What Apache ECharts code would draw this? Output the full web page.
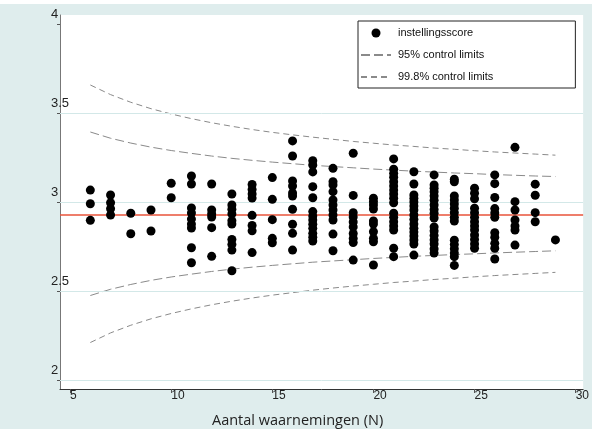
<!DOCTYPE html>
<html>
<head>
<meta charset="utf-8">
<script src="https://cdn.jsdelivr.net/npm/echarts@6/dist/echarts.min.js"></script>
<style>
  html, body { margin: 0; padding: 0; background: #ffffff; }
  #chart { width: 592px; height: 429px; }
</style>
</head>
<body>
<div id="chart"></div>
<script>
// ---- data ----
const xTicks = [5, 10, 15, 20, 25, 30];
const yTicks = [2, 2.5, 3, 3.5, 4];
const gridValues = [2, 2.5, 3, 3.5];
const meanScore = 2.934;

const scoreN = [6, 7, 8, 9, 10, 11, 12, 13, 14, 15, 16, 17, 18, 19, 20, 21, 22, 23, 24, 25, 26, 27, 28, 29];
const scoreColumns = [
  [3.067, 2.990, 2.897],
  [3.039, 2.996, 2.962, 2.927],
  [2.937, 2.822],
  [2.955, 2.837],
  [3.105, 3.024],
  [3.146, 3.101, 2.966, 2.938, 2.904, 2.876, 2.854, 2.743, 2.659],
  [3.101, 2.955, 2.933, 2.916, 2.856, 2.695],
  [3.045, 2.983, 2.959, 2.933, 2.895, 2.876, 2.790, 2.762, 2.730, 2.614],
  [3.098, 3.070, 3.045, 3.022, 2.925, 2.868, 2.838, 2.716],
  [3.137, 3.015, 2.901, 2.796, 2.771],
  [3.343, 3.258, 3.118, 3.090, 3.051, 3.034, 2.959, 2.875, 2.824, 2.730],
  [3.232, 3.208, 3.169, 3.086, 3.024, 2.946, 2.921, 2.899, 2.875, 2.852, 2.824, 2.802, 2.781],
  [3.189, 3.114, 3.096, 3.058, 3.011, 2.983, 2.955, 2.927, 2.899, 2.820, 2.726],
  [3.274, 3.037, 2.940, 2.916, 2.888, 2.860, 2.823, 2.795, 2.772, 2.674],
  [3.021, 3.002, 2.983, 2.961, 2.893, 2.876, 2.833, 2.796, 2.777, 2.646],
  [3.242, 3.184, 3.161, 3.139, 3.114, 3.090, 3.067, 3.045, 3.021, 2.996, 2.937, 2.914, 2.889, 2.865, 2.843, 2.740, 2.693],
  [3.170, 3.101, 3.039, 3.020, 3.000, 2.978, 2.955, 2.927, 2.902, 2.876, 2.852, 2.831, 2.809, 2.787, 2.764, 2.702],
  [3.152, 3.096, 3.077, 3.058, 3.034, 3.010, 2.983, 2.958, 2.937, 2.910, 2.860, 2.837, 2.812, 2.787, 2.764, 2.736, 2.713],
  [3.128, 3.114, 3.034, 3.011, 2.989, 2.965, 2.940, 2.914, 2.893, 2.785, 2.761, 2.737, 2.713, 2.693, 2.644],
  [3.077, 3.049, 3.018, 2.965, 2.940, 2.914, 2.889, 2.865, 2.843, 2.815, 2.790, 2.764, 2.740],
  [3.152, 3.103, 3.025, 2.963, 2.938, 2.914, 2.828, 2.802, 2.768, 2.740, 2.680],
  [3.307, 3.002, 2.955, 2.899, 2.865, 2.843, 2.758],
  [3.100, 3.038, 2.940, 2.889],
  [2.787]
];

const limitN = [6, 7, 8, 9, 10, 11, 12, 13, 14, 15, 16, 17, 18, 19, 20, 21, 22, 23, 24, 25, 26, 27, 28, 29];
const upper95 = [3.393, 3.358, 3.331, 3.308, 3.289, 3.273, 3.258, 3.245, 3.234, 3.224, 3.215, 3.206, 3.199, 3.192, 3.185, 3.179, 3.173, 3.168, 3.163, 3.159, 3.154, 3.150, 3.146, 3.143];
const lower95 = [2.475, 2.510, 2.537, 2.560, 2.579, 2.595, 2.610, 2.623, 2.634, 2.644, 2.653, 2.662, 2.669, 2.676, 2.683, 2.689, 2.695, 2.700, 2.705, 2.709, 2.714, 2.718, 2.722, 2.726];
const upper998 = [3.657, 3.603, 3.560, 3.524, 3.494, 3.468, 3.445, 3.425, 3.407, 3.391, 3.377, 3.364, 3.352, 3.340, 3.330, 3.320, 3.312, 3.303, 3.296, 3.288, 3.281, 3.275, 3.269, 3.263];
const lower998 = [2.211, 2.265, 2.308, 2.344, 2.374, 2.400, 2.423, 2.443, 2.461, 2.477, 2.491, 2.505, 2.517, 2.528, 2.538, 2.548, 2.556, 2.565, 2.572, 2.580, 2.587, 2.593, 2.599, 2.605];

const seriesNames = ['instellingsscore', '95% control limits', '99.8% control limits'];
const xTitle = 'Aantal waarnemingen (N)';

// ---- build ----
const scatterData = [];
scoreN.forEach((n, i) => scoreColumns[i].forEach(v => scatterData.push([n, v])));
const pairs = (ys) => limitN.map((n, i) => [n, ys[i]]);

const limitColor = '#8a8a8a';
const lineSeries = (name, ys, dash) => ({
  name: name,
  type: 'line',
  data: pairs(ys),
  showSymbol: false,
  symbol: 'none',
  smooth: false,
  silent: true,
  z: 3,
  lineStyle: { color: limitColor, width: 1, type: dash },
  itemStyle: { color: limitColor }
});

const chart = echarts.init(document.getElementById('chart'), null, { renderer: 'canvas' });
chart.setOption({
  animation: false,
  backgroundColor: '#dfeded',
  graphic: [
    { type: 'rect', left: 0, top: 0, shape: { width: 592, height: 4 }, style: { fill: '#ffffff' }, silent: true }
  ],
  title: {
    text: xTitle,
    left: 212,
    top: 413,
    padding: 0,
    textStyle: { fontFamily: 'Open Sans', fontSize: 14.5, fontWeight: 'normal', color: '#222' }
  },
  grid: {
    left: 60, right: 7, top: 15, bottom: 40,
    show: true, backgroundColor: '#ffffff', borderWidth: 0
  },
  legend: {
    data: [
      { name: seriesNames[0] },
      { name: seriesNames[1], itemStyle: { opacity: 0 } },
      { name: seriesNames[2], itemStyle: { opacity: 0 } }
    ],
    orient: 'vertical',
    left: 358,
    top: 21,
    padding: [5, 82, 4, 2],
    itemGap: 8,
    itemWidth: 30,
    itemHeight: 9,
    backgroundColor: '#ffffff',
    borderColor: '#222',
    borderWidth: 1,
    borderRadius: 0,
    textStyle: { fontFamily: 'Liberation Sans', fontSize: 11, color: '#111', lineHeight: 14, padding: [0, 0, 0, 2] }
  },
  xAxis: {
    type: 'value',
    min: 4.5,
    max: 30.37,
    axisLine: { show: true, lineStyle: { color: '#333', width: 1 } },
    axisTick: { show: true, length: 4, inside: false, customValues: xTicks, lineStyle: { color: '#555' } },
    axisLabel: {
      customValues: xTicks,
      align: 'left',
      margin: 1,
      fontFamily: 'Liberation Sans',
      fontSize: 12,
      color: '#222'
    },
    splitLine: { show: false }
  },
  yAxis: {
    type: 'value',
    min: 1.95,
    max: 4.05,
    axisLine: { show: true, lineStyle: { color: '#777', width: 1 } },
    axisTick: { show: true, length: 3, customValues: yTicks, lineStyle: { color: '#555' } },
    axisLabel: {
      customValues: yTicks,
      align: 'left',
      verticalAlign: 'bottom',
      margin: 9,
      padding: [0, 0, 3, 0],
      fontFamily: 'Liberation Sans',
      fontSize: 13,
      color: '#222'
    },
    splitLine: { show: false }
  },
  series: [
    {
      name: 'grid',
      type: 'line',
      data: [],
      silent: true,
      z: 1,
      markLine: {
        silent: true,
        symbol: 'none',
        label: { show: false },
        lineStyle: { color: '#d3e8e8', width: 1, type: 'solid' },
        data: gridValues.map(v => ({ yAxis: v }))
      }
    },
    {
      name: 'mean',
      type: 'line',
      data: [],
      silent: true,
      z: 2,
      markLine: {
        silent: true,
        symbol: 'none',
        label: { show: false },
        lineStyle: { color: '#e8533a', width: 1.5, type: 'solid' },
        data: [{ yAxis: meanScore }]
      }
    },
    lineSeries(seriesNames[1], upper95, [9, 4]),
    lineSeries(seriesNames[1], lower95, [9, 4]),
    lineSeries(seriesNames[2], upper998, [6, 4]),
    lineSeries(seriesNames[2], lower998, [6, 4]),
    {
      name: seriesNames[0],
      type: 'scatter',
      data: scatterData,
      symbol: 'circle',
      symbolSize: 9,
      z: 5,
      itemStyle: { color: '#000000', opacity: 1 }
    }
  ]
});
</script>
</body>
</html>
